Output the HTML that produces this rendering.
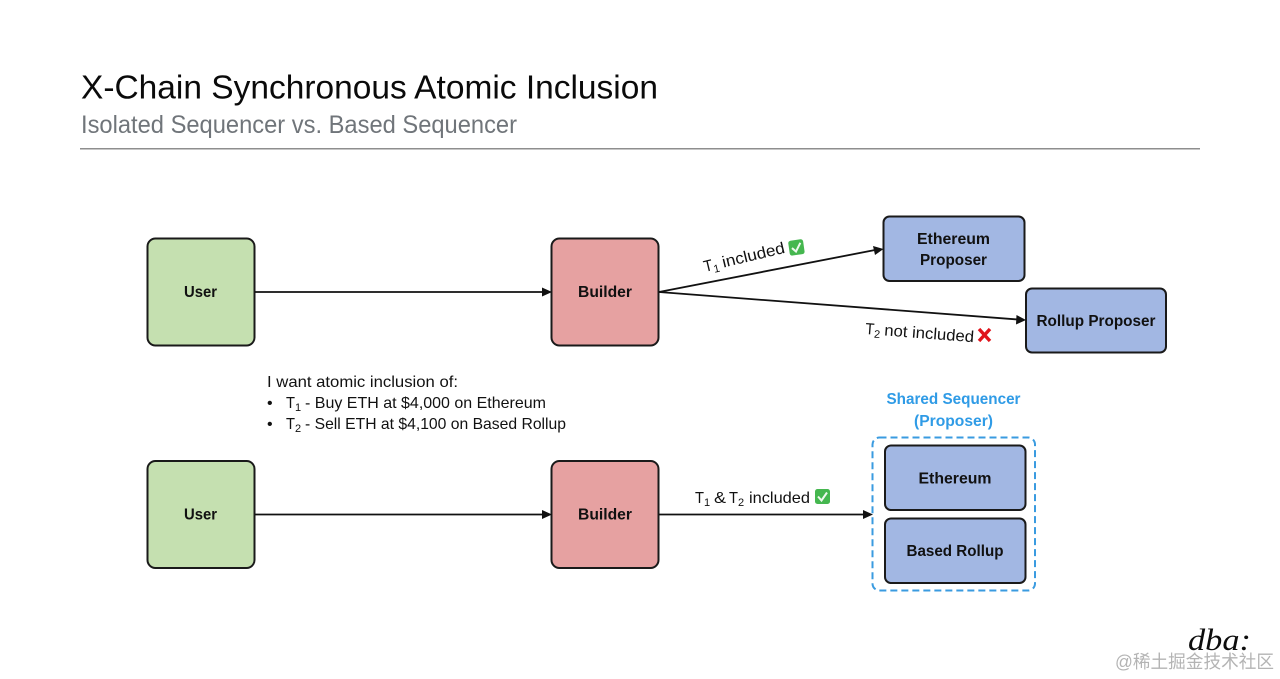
<!DOCTYPE html>
<html><head><meta charset="utf-8"><style>
html,body{margin:0;padding:0;background:#fff;width:1280px;height:679px;overflow:hidden}
svg{display:block}
text{font-family:"Liberation Sans","Noto Sans CJK SC",sans-serif;fill:#111}
.b{font-weight:bold;font-size:16px}
.n{font-size:16px}
.s{font-size:11px}
</style></head><body>
<svg width="1280" height="679" viewBox="0 0 1280 679" xmlns="http://www.w3.org/2000/svg">
<rect width="1280" height="679" fill="#fff"/>
<text x="81" y="98.500" font-size="33.500" textLength="577" lengthAdjust="spacingAndGlyphs" style="fill:#0a0a0a">X-Chain Synchronous Atomic Inclusion</text>
<text x="81" y="133" font-size="25" textLength="436" lengthAdjust="spacingAndGlyphs" style="fill:#70757a">Isolated Sequencer vs. Based Sequencer</text>
<rect x="80" y="148" width="1120" height="1.500" fill="#8e8e8e"/>

<g stroke="#1a1a1a" stroke-width="2">
<rect x="147.500" y="238.500" width="107" height="107" rx="8" fill="#c5e0b0"/>
<rect x="551.500" y="238.500" width="107" height="107" rx="8" fill="#e6a1a1"/>
<rect x="883.500" y="216.500" width="141" height="64.500" rx="6" fill="#a2b7e3"/>
<rect x="1026" y="288.500" width="140" height="64" rx="6" fill="#a2b7e3"/>
<rect x="147.500" y="461" width="107" height="107" rx="8" fill="#c5e0b0"/>
<rect x="551.500" y="461" width="107" height="107" rx="8" fill="#e6a1a1"/>
<rect x="885" y="445.500" width="140.500" height="64.500" rx="6" fill="#a2b7e3"/>
<rect x="885" y="518.500" width="140.500" height="64.500" rx="6" fill="#a2b7e3"/>
</g>
<rect x="872.500" y="437.500" width="162.500" height="153" rx="7" fill="none" stroke="#3a9be0" stroke-width="2" stroke-dasharray="7 4"/>

<g stroke="#111" stroke-width="1.800" fill="none">
<line x1="255" y1="292" x2="543" y2="292"/>
<line x1="659" y1="292" x2="875" y2="250"/>
<line x1="659" y1="292" x2="1018" y2="319.500"/>
<line x1="255" y1="514.500" x2="543" y2="514.500"/>
<line x1="659" y1="514.500" x2="865" y2="514.500"/>
</g>
<g fill="#111">
<polygon points="552,292 542,287.500 542,296.500"/>
<polygon points="883.500,249 873,246 875,255"/>
<polygon points="1026,320 1016.500,315 1016,324.500"/>
<polygon points="552,514.500 542,510 542,519"/>
<polygon points="873,514.500 863,510 863,519"/>
</g>

<text class="b" x="184" y="297" textLength="33" lengthAdjust="spacingAndGlyphs">User</text>
<text class="b" x="578" y="297" textLength="54" lengthAdjust="spacingAndGlyphs">Builder</text>
<text class="b" x="917" y="244" textLength="73" lengthAdjust="spacingAndGlyphs">Ethereum</text>
<text class="b" x="920" y="265" textLength="67" lengthAdjust="spacingAndGlyphs">Proposer</text>
<text class="b" x="1036.500" y="326" textLength="119" lengthAdjust="spacingAndGlyphs">Rollup Proposer</text>
<text class="b" x="184" y="519.500" textLength="33" lengthAdjust="spacingAndGlyphs">User</text>
<text class="b" x="578" y="519.500" textLength="54" lengthAdjust="spacingAndGlyphs">Builder</text>
<text class="b" x="918.500" y="483.500" textLength="73" lengthAdjust="spacingAndGlyphs">Ethereum</text>
<text class="b" x="906.500" y="556" textLength="97" lengthAdjust="spacingAndGlyphs">Based Rollup</text>
<text class="b" x="886.500" y="404" textLength="134" lengthAdjust="spacingAndGlyphs" style="fill:#2f9be6">Shared Sequencer</text>
<text class="b" x="914" y="426" textLength="79" lengthAdjust="spacingAndGlyphs" style="fill:#2f9be6">(Proposer)</text>

<g transform="rotate(-13.500 705 272)">
<text class="n" x="705" y="272" textLength="9" lengthAdjust="spacingAndGlyphs">T</text>
<text class="s" x="714" y="275">1</text>
<text class="n" x="724" y="272" textLength="64" lengthAdjust="spacingAndGlyphs">included</text>
</g>
<g transform="rotate(-8 796 248)">
<rect x="789" y="240" width="15" height="15" rx="2.500" fill="#45b74f"/>
<path d="M792 247.500l3.500 4 5.500-8" stroke="#eef8ee" stroke-width="2" fill="none"/>
</g>

<g transform="rotate(4.300 865 334)">
<text class="n" x="865" y="334" textLength="9" lengthAdjust="spacingAndGlyphs">T</text>
<text class="s" x="874" y="337">2</text>
<text class="n" x="884" y="334" textLength="90" lengthAdjust="spacingAndGlyphs">not included</text>
</g>
<path d="M979 329l11 12M990 329l-11 12" stroke="#e0141c" stroke-width="3.400" fill="none"/>

<text class="n" x="695" y="503" textLength="9" lengthAdjust="spacingAndGlyphs">T</text>
<text class="s" x="704" y="506">1</text>
<text class="n" x="714" y="503" textLength="12" lengthAdjust="spacingAndGlyphs">&amp;</text>
<text class="n" x="729" y="503" textLength="9" lengthAdjust="spacingAndGlyphs">T</text>
<text class="s" x="738" y="506">2</text>
<text class="n" x="749" y="503" textLength="61" lengthAdjust="spacingAndGlyphs">included</text>
<rect x="815" y="489" width="15" height="15" rx="2.500" fill="#45b74f"/>
<path d="M818 496.500l3.500 4 5.500-8" stroke="#eef8ee" stroke-width="2" fill="none"/>

<text class="n" x="267" y="387" textLength="191" lengthAdjust="spacingAndGlyphs">I want atomic inclusion of:</text>
<text class="n" x="267" y="408">•</text>
<text class="n" x="286" y="408" textLength="9" lengthAdjust="spacingAndGlyphs">T</text>
<text class="s" x="295" y="411">1</text>
<text class="n" x="305" y="408" textLength="241" lengthAdjust="spacingAndGlyphs">- Buy ETH at $4,000 on Ethereum</text>
<text class="n" x="267" y="429">•</text>
<text class="n" x="286" y="429" textLength="9" lengthAdjust="spacingAndGlyphs">T</text>
<text class="s" x="295" y="432">2</text>
<text class="n" x="305" y="429" textLength="261" lengthAdjust="spacingAndGlyphs">- Sell ETH at $4,100 on Based Rollup</text>

<text x="1188" y="650" font-size="31" textLength="63" lengthAdjust="spacingAndGlyphs" style="font-family:'Liberation Serif',serif;font-style:italic;fill:#0d0d0d">dba:</text>
<text x="1115" y="668" font-size="18" textLength="159" lengthAdjust="spacingAndGlyphs" style="fill:#b4b4b4;font-family:'Liberation Sans','Noto Sans CJK SC',sans-serif">@稀土掘金技术社区</text>
</svg>
</body></html>
